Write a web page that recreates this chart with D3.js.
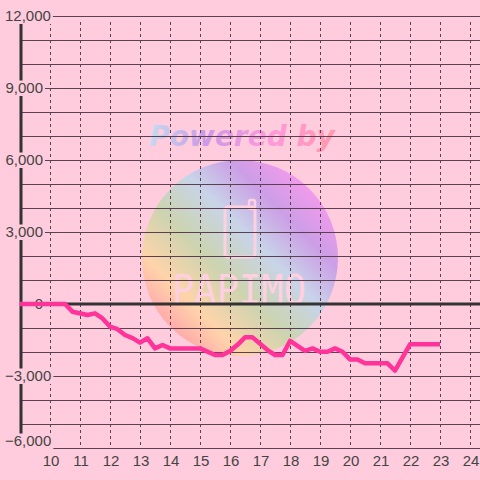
<!DOCTYPE html>
<html><head><meta charset="utf-8">
<script src="https://cdn.jsdelivr.net/npm/d3@7"></script>
<style>html,body{margin:0;padding:0;background:#ffccdd;}svg{display:block;}</style>
</head><body>
<script>
const hours = [9.0,10.5,10.75,11.25,11.5,11.75,12.0,12.25,12.5,12.75,13.0,13.25,13.5,13.75,14.0,15.0,15.5,15.75,16.0,16.25,16.5,16.75,17.25,17.5,17.75,18.0,18.5,18.75,19.0,19.25,19.5,19.75,20.0,20.25,20.5,21.25,21.5,22.0,23.0];
const values = [0,0,-320,-460,-390,-600,-940,-1050,-1290,-1420,-1610,-1430,-1850,-1710,-1850,-1850,-2125,-2125,-1960,-1700,-1390,-1390,-1920,-2125,-2125,-1540,-1950,-1850,-1990,-1990,-1850,-1990,-2310,-2310,-2470,-2470,-2780,-1680,-1680];
const xTicks = [10,11,12,13,14,15,16,17,18,19,20,21,22,23,24];
const yTicks = [-6000,-3000,0,3000,6000,9000,12000];
const yGrid = d3.range(-6000, 12001, 1000);

const W = 480, H = 480;
const x = d3.scaleLinear().domain([9, 24]).range([20, 470]);
const y = d3.scaleLinear().domain([-6000, 12000]).range([448, 16]);
const BG = "#ffccdd";

const svg = d3.select("body").append("svg").attr("width", W).attr("height", H);
svg.append("rect").attr("width", W).attr("height", H).attr("fill", BG);

const defs = svg.append("defs");
const g1 = defs.append("linearGradient").attr("id","wmText").attr("x1","0").attr("x2","1").attr("y1","0").attr("y2","0");
[["0%","#c4dcf0"],["30%","#cc99e6"],["65%","#ff99dd"],["100%","#ff99aa"]].forEach(s=>g1.append("stop").attr("offset",s[0]).attr("stop-color",s[1]));
const g2 = defs.append("linearGradient").attr("id","wmCircle").attr("x1","0.1").attr("y1","0.9").attr("x2","0.9").attr("y2","0.1");
[["0%","#ff99aa"],["20%","#ffd4aa"],["40%","#ccd4b0"],["60%","#c8d4e8"],["78%","#cc9ee6"],["100%","#ff99ee"]].forEach(s=>g2.append("stop").attr("offset",s[0]).attr("stop-color",s[1]));

// watermark
const wm = svg.append("g");
wm.append("text").attr("x", 242).attr("y", 146).attr("text-anchor","middle")
  .attr("font-family","DejaVu Sans, sans-serif").attr("font-weight","bold").attr("font-style","italic")
  .attr("font-size", 28).attr("fill","url(#wmText)").text("Powered by");
wm.append("circle").attr("cx", 240).attr("cy", 258).attr("r", 98).attr("fill","url(#wmCircle)");
wm.append("rect").attr("x", 225).attr("y", 207).attr("width", 30).attr("height", 50).attr("rx", 3)
  .attr("fill","none").attr("stroke","#ffd0e0").attr("stroke-width", 3);
wm.append("rect").attr("x", 249).attr("y", 200).attr("width", 6).attr("height", 9).attr("rx", 2)
  .attr("fill","none").attr("stroke","#ffd0e0").attr("stroke-width", 2.5);
wm.append("text").attr("x", 172).attr("y", 304)
  .attr("font-family","DejaVu Sans Mono, monospace").attr("font-size", 40)
  .attr("textLength", 134).attr("lengthAdjust","spacingAndGlyphs")
  .attr("fill","#ffd0e0").text("PAPIMO");

// grid
svg.append("g").selectAll("line").data(yGrid).join("line")
  .attr("x1", 20).attr("x2", W).attr("y1", d=>y(d)).attr("y2", d=>y(d))
  .attr("stroke","#5a4050").attr("stroke-width", 1).attr("shape-rendering","crispEdges");
svg.append("g").selectAll("line").data(xTicks).join("line")
  .attr("x1", d=>x(d)).attr("x2", d=>x(d)).attr("y1", 22).attr("y2", 448)
  .attr("stroke","#5a4050").attr("stroke-width", 1).attr("stroke-dasharray","3,3").attr("shape-rendering","crispEdges");

// axes lines
svg.append("line").attr("x1", 21).attr("x2", 21).attr("y1", 16).attr("y2", 448).attr("stroke","#333").attr("stroke-width", 3);
svg.append("line").attr("x1", 20).attr("x2", W).attr("y1", y(0)).attr("y2", y(0)).attr("stroke","#333").attr("stroke-width", 3);

// y labels with background boxes
const yl = svg.append("g");
yTicks.forEach(d => {
  const g = yl.append("g");
  const bg = g.append("rect").attr("fill", BG);
  let cy = y(d);
  if (d === -6000) cy -= 7;
  const t = g.append("text").attr("x", 43).attr("y", cy).attr("dy","0.35em").attr("text-anchor","end")
    .attr("font-family","Liberation Sans, Arial, sans-serif").attr("font-size", 15).attr("fill","#444")
    .text(d3.format(",")(d));
  let bb = t.node().getBBox();
  if (bb.x < 5) { t.attr("x", 43 + (5 - bb.x)); bb = t.node().getBBox(); }
  bg.attr("x", bb.x - 2).attr("y", cy - 7.5).attr("width", bb.width + 4).attr("height", 15.5);
});

// data line
const line = d3.line().x((d,i)=>x(hours[i])).y(d=>y(d));
svg.append("path").datum(values).attr("d", line).attr("fill","none")
  .attr("stroke","#ff3399").attr("stroke-width", 4.5).attr("stroke-linejoin","round");

// x labels
svg.append("g").selectAll("text").data(xTicks).join("text")
  .attr("x", d=>x(d)+1).attr("y", 466).attr("text-anchor","middle")
  .attr("font-family","Liberation Sans, Arial, sans-serif").attr("font-size", 15).attr("fill","#444")
  .text(d=>d);
</script>
</body></html>
